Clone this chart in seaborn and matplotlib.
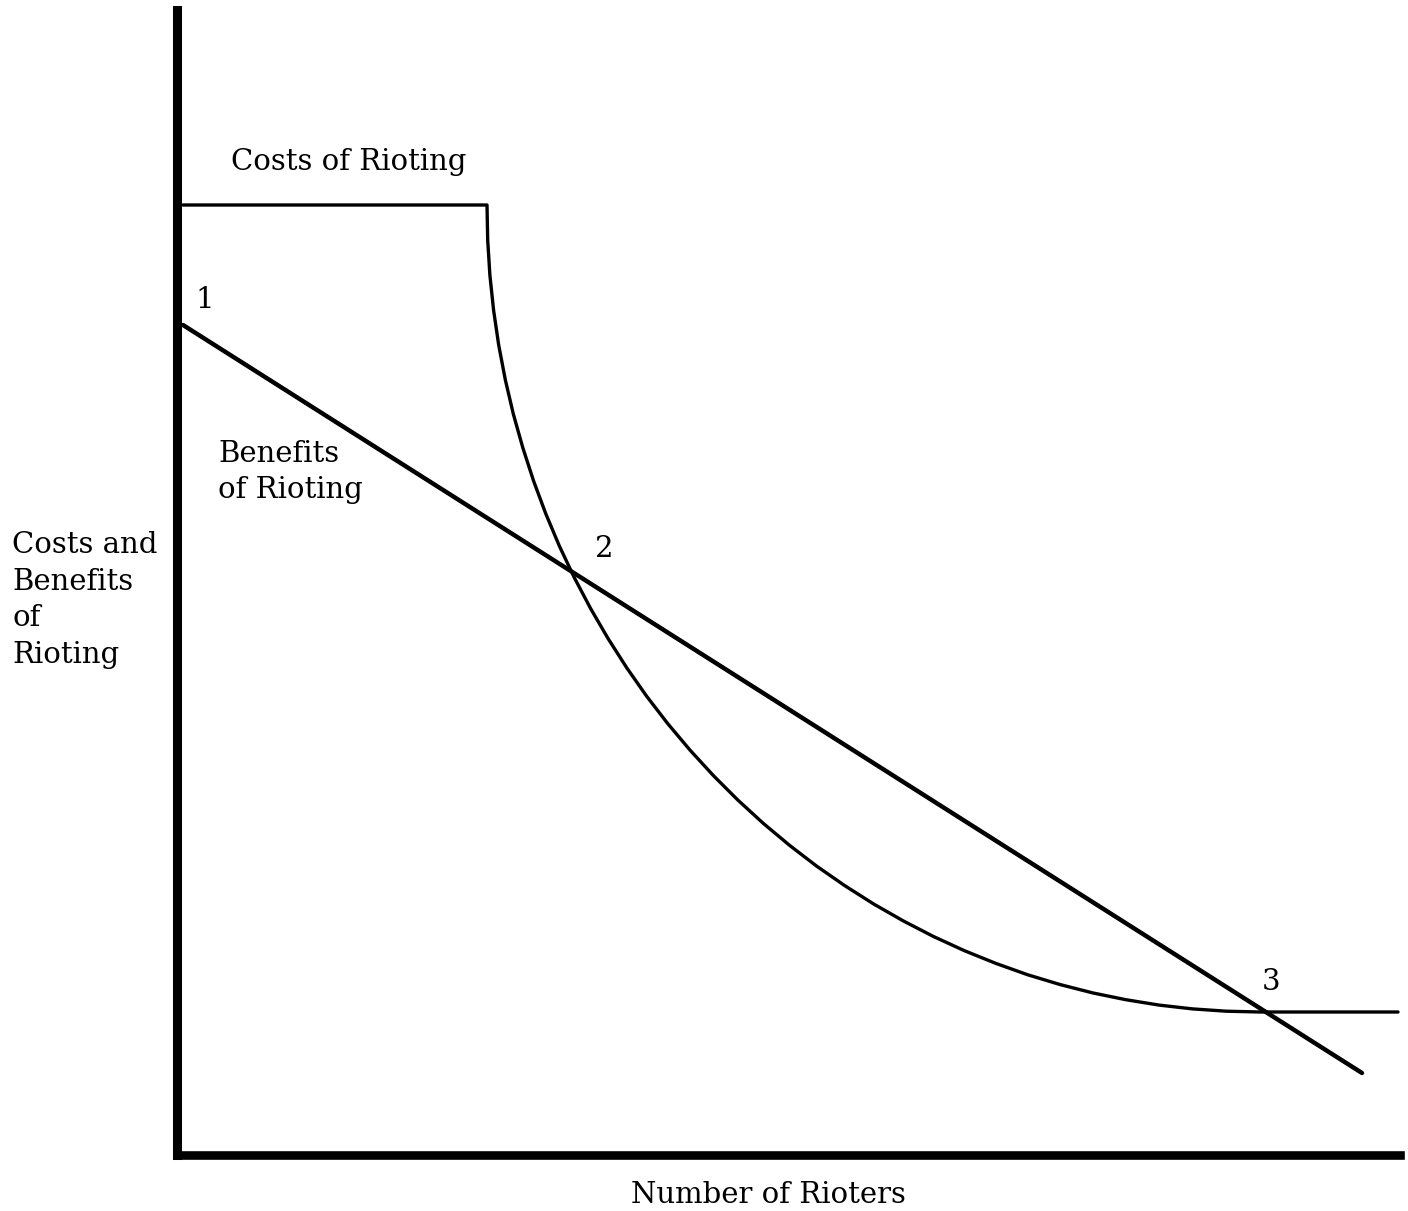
import matplotlib.pyplot as plt
import seaborn as sns
import pandas as pd

# --- data (arbitrary units) ---
COST_X = [0.3, 30.70, 30.77, 30.99, 31.36, 31.87, 32.53, 33.33, 34.28, 35.36,
          36.58, 37.94, 39.43, 41.06, 42.81, 44.68, 46.67, 48.78, 51.01, 53.34,
          55.78, 58.31, 60.94, 63.66, 66.47, 69.35, 72.31, 75.33, 78.42, 81.56,
          84.75, 87.99, 91.27, 94.58, 97.91, 101.26, 104.63, 108.00, 121.8]
COST_Y = [95.0, 95.00, 91.48, 87.97, 84.47, 80.99, 77.53, 74.11, 70.73, 67.40,
          64.12, 60.89, 57.74, 54.65, 51.64, 48.71, 45.87, 43.13, 40.48, 37.94,
          35.50, 33.18, 30.98, 28.89, 26.94, 25.11, 23.42, 21.86, 20.44, 19.17,
          18.03, 17.05, 16.21, 15.53, 14.99, 14.61, 14.38, 14.30, 14.3]
BENEFIT_X = [0.3, 118.2]
BENEFIT_Y = [83.0, 8.2]

POINT_LABELS = ["1", "2", "3"]
POINT_X = [2.5, 42.4, 109.1]
POINT_Y = [85.5, 60.6, 17.3]

FONT = ["DejaVu Serif"]

sns.set_style("white")
plt.rcParams["font.family"] = FONT
plt.rcParams["text.color"] = "black"

fig = plt.figure(figsize=(14.08, 12.11), dpi=100)
ax = fig.add_axes([177 / 1408, 56 / 1211, 1223 / 1408, 1145 / 1211])

costs = pd.DataFrame({"x": COST_X, "y": COST_Y})
benefits = pd.DataFrame({"x": BENEFIT_X, "y": BENEFIT_Y})
sns.lineplot(data=costs, x="x", y="y", sort=False, color="black", lw=2.4,
             solid_joinstyle="round", ax=ax)
sns.lineplot(data=benefits, x="x", y="y", sort=False, color="black", lw=3.2, ax=ax)

ax.set_xlim(-0.3, 122)
ax.set_ylim(0, 114.5)
ax.set_xticks([])
ax.set_yticks([])
ax.set_xlabel("")
ax.set_ylabel("")
for side in ["top", "right"]:
    ax.spines[side].set_visible(False)
ax.spines["left"].set_linewidth(6.5)
ax.spines["bottom"].set_linewidth(6.2)
ax.spines["left"].set_color("black")
ax.spines["bottom"].set_color("black")

fs = 21
ax.text(5.1, 99.3, "Costs of Rioting", fontsize=fs, va="center", ha="left")
ax.text(3.8, 68.3, "Benefits\nof Rioting", fontsize=fs, va="center", ha="left",
        linespacing=1.4)
for lab, x, y in zip(POINT_LABELS, POINT_X, POINT_Y):
    ax.text(x, y, lab, fontsize=fs, va="center", ha="center")

fig.text(12 / 1408, 1 - 600 / 1211, "Costs and\nBenefits\nof\nRioting",
         fontsize=fs, va="center", ha="left", linespacing=1.4)
fig.text(768 / 1408, 1 - 1195 / 1211, "Number of Rioters", fontsize=fs,
         va="center", ha="center")

fig.savefig("out.png", dpi=100)
